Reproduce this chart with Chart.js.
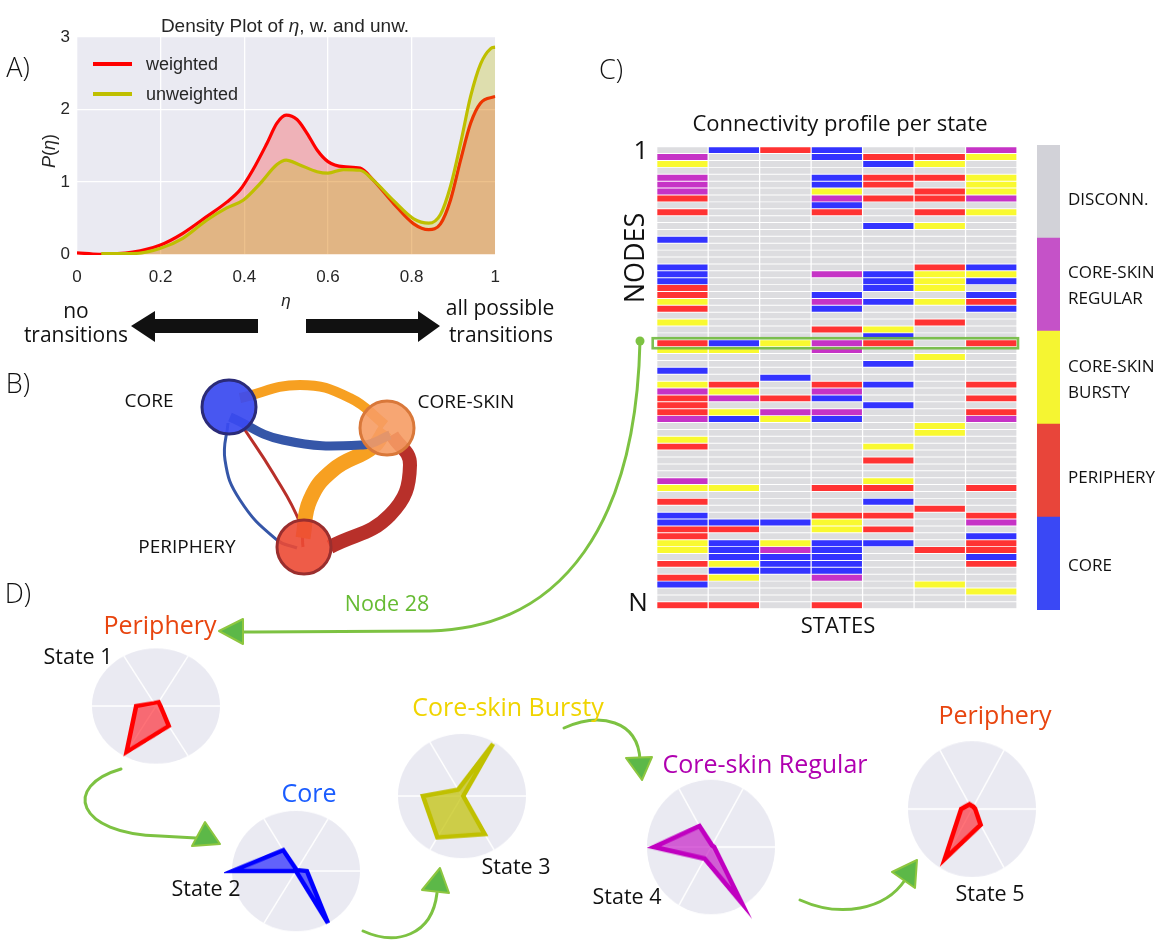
<!DOCTYPE html>
<html><head><meta charset="utf-8">
<script src="https://cdn.jsdelivr.net/npm/chart.js@4.4.0/dist/chart.umd.min.js"></script>
<style>
html,body{margin:0;padding:0;background:#fff;}
#root{position:relative;width:1164px;height:945px;overflow:hidden;font-family:"Open Sans",sans-serif;color:#111;}
.t{position:absolute;white-space:nowrap;line-height:1;transform:translate(-50%,-50%);}
.tl{position:absolute;white-space:nowrap;line-height:1;transform:translate(0,-50%);}
.box{position:absolute;}
.ar{font-family:"Liberation Sans",Arial,sans-serif;color:#262626;}
svg{position:absolute;left:0;top:0;}
</style></head><body><div id="root"></div>
<script>
// ---------- Panel A data (density of eta) ----------
const etaWeighted = [0,0.053,0.133,0.198,0.253,0.31,0.358,0.39,0.42,0.454,0.478,0.50,0.526,0.55,0.574,0.60,0.637,0.677,0.709,0.757,0.805,0.841,0.869,0.893,0.917,0.941,0.965,1.0];
const pWeighted   = [0.02,0.0,0.03,0.125,0.29,0.52,0.72,0.89,1.16,1.53,1.81,1.92,1.86,1.67,1.44,1.28,1.21,1.19,1.02,0.70,0.42,0.34,0.42,0.75,1.30,1.81,2.09,2.18];
const etaUnweighted = [0.058,0.133,0.198,0.253,0.31,0.358,0.398,0.438,0.478,0.50,0.53,0.574,0.60,0.637,0.677,0.709,0.757,0.805,0.841,0.869,0.893,0.917,0.941,0.965,0.989,1.0];
const pUnweighted   = [0.01,0.01,0.08,0.22,0.47,0.64,0.75,0.98,1.24,1.30,1.24,1.14,1.12,1.17,1.16,1.02,0.74,0.49,0.43,0.55,0.94,1.53,2.18,2.63,2.84,2.86];
const xTicksA = [0,0.2,0.4,0.6,0.8,1];
const yTicksA = [0,1,2,3];

// ---------- Panel B data (state transition network) ----------
const netNodes = ['CORE','CORE-SKIN','PERIPHERY'];
const netNodeX = [129,287,204];
const netNodeY = [47,68,187];
const netEdgeX = [[140,200,250,285],[130,183,263,290],[285,273,233,210,203],[292,310,290,230],[128,125,140,177,197],[143,173,200,203]];
const netEdgeY = [[38,25,38,65],[57,80,85,75],[70,87,110,140,178],[75,105,155,187],[63,100,140,180,188],[67,113,163,187]];
const netEdgeWeight = [10,9,15,14,3,3];
const netEdgeSource = ['CORE-SKIN','CORE','CORE-SKIN','PERIPHERY','CORE','PERIPHERY'];

// ---------- Panel C data (role of each node in each state) ----------
// 0 disconnected, 1 core, 2 periphery, 3 core-skin bursty, 4 core-skin regular
const state1 = [0,4,3,0,4,4,4,2,0,2, 0,0,0,1,0,0,0,1,1,1, 2,2,3,2,0,3,0,0,2,3, 0,0,1,0,3,4,2,2,2,4, 0,0,3,2,0,0,0,0,4,3, 0,2,0,1,1,2,2,3,3,0, 2,0,2,1,0,0,2];
const state2 = [1,0,0,0,0,0,0,0,0,0, 0,0,0,0,0,0,0,0,0,0, 0,0,0,0,0,0,0,0,1,3, 0,0,0,0,2,3,4,0,3,1, 0,0,0,0,0,0,0,0,0,3, 0,0,0,0,1,2,0,1,1,1, 3,1,3,0,0,0,2];
const state3 = [2,0,0,0,0,0,0,0,0,0, 0,0,0,0,0,0,0,0,0,0, 0,0,0,0,0,0,0,0,3,0, 0,0,0,1,0,0,2,0,4,3, 0,0,0,0,0,0,0,0,0,0, 0,0,0,0,1,0,0,3,4,1, 1,1,0,0,0,0,0];
const state4 = [1,1,0,0,1,1,3,4,1,2, 0,0,0,0,0,0,0,0,4,0, 0,1,4,1,0,0,2,0,4,4, 0,0,0,0,2,4,1,0,4,1, 0,0,0,0,0,0,0,0,0,2, 0,0,0,2,3,3,0,1,1,1, 1,1,4,0,0,0,2];
const state5 = [0,2,1,0,2,2,0,2,0,0, 0,1,0,0,0,0,0,0,1,1, 1,0,1,0,0,0,3,1,2,0, 0,1,0,0,1,0,0,1,0,0, 0,0,0,3,0,2,0,0,3,2, 0,1,0,2,0,2,0,1,0,0, 0,0,0,0,0,0,0];
const state6 = [0,2,3,0,2,0,2,2,0,2, 0,3,0,0,0,0,0,2,3,3, 3,0,3,0,0,2,0,0,0,0, 3,0,0,0,0,0,0,0,0,0, 3,3,0,0,0,0,0,0,0,0, 0,0,2,0,0,0,0,0,2,0, 0,0,0,3,0,0,0];
const state7 = [4,3,0,0,3,3,3,4,0,3, 0,0,0,0,0,0,0,1,3,1, 0,1,2,1,0,0,0,0,2,0, 0,0,0,0,2,0,2,0,2,4, 0,0,0,0,0,0,0,0,0,2, 0,0,0,2,4,0,1,2,2,1, 2,0,0,0,3,0,0];
const roleNames = ['DISCONN.','CORE','PERIPHERY','CORE-SKIN BURSTY','CORE-SKIN REGULAR'];
const highlightNode = 28;

// ---------- Panel D data (radar profile of node 28 per state) ----------
const radarAxes = ['','','','','',''];
const radarState1 = [0.07,0.40,0.92,0.31,0.06,0.08];
const radarState2 = [0.17,1.00,0.00,0.99,0.40,0.02];
const radarState3 = [0.02,0.71,0.77,0.61,0.12,0.97];
const radarState4 = [0.05,0.96,0.20,0.89,0.36,0.03];
const radarState5 = [0.05,0.27,0.85,0.17,0.08,0.04];

// ---------------------------------------------------------------
Chart.defaults.animation = false;
Chart.defaults.plugins.legend.display = false;
Chart.defaults.plugins.tooltip.enabled = false;
const root = document.getElementById('root');
function canvasAt(x, y, w, h, extra) {
  const d = document.createElement('div');
  d.className = 'box';
  d.style.cssText = `left:${x}px;top:${y}px;width:${w}px;height:${h}px;` + (extra || '');
  const c = document.createElement('canvas');
  c.width = w; c.height = h;
  c.style.width = w + 'px'; c.style.height = h + 'px';
  d.appendChild(c); root.appendChild(d);
  return c;
}
function text(html, x, y, size, opts) {
  opts = opts || {};
  const d = document.createElement('div');
  d.className = (opts.left ? 'tl' : 't') + (opts.cls ? ' ' + opts.cls : '');
  d.innerHTML = html;
  d.style.left = x + 'px'; d.style.top = y + 'px'; d.style.fontSize = size + 'px';
  if (opts.color) d.style.color = opts.color;
  if (opts.rot) d.style.transform = `translate(-50%,-50%) rotate(${opts.rot}deg)`;
  if (opts.weight) d.style.fontWeight = opts.weight;
  root.appendChild(d);
}

// ---------- Panel A ----------
const plotBg = { id: 'plotBg', beforeDraw(chart) {
  const a = chart.chartArea, ctx = chart.ctx;
  ctx.save(); ctx.fillStyle = '#eaeaf2';
  ctx.fillRect(a.left, a.top, a.right - a.left, a.bottom - a.top); ctx.restore(); } };
const xy = (xs, ys) => xs.map((x, i) => ({x: x, y: ys[i]}));
new Chart(canvasAt(0, 0, 502, 300), {
  type: 'line',
  data: { datasets: [
    { label: 'unweighted', data: xy(etaUnweighted, pUnweighted), borderColor: '#bfbf00', backgroundColor: 'rgba(191,191,0,0.28)', fill: 'origin', borderWidth: 3.2, pointRadius: 0, cubicInterpolationMode: 'monotone' },
    { label: 'weighted', data: xy(etaWeighted, pWeighted), borderColor: '#ff0000', backgroundColor: 'rgba(255,0,0,0.24)', fill: 'origin', borderWidth: 3.2, pointRadius: 0, cubicInterpolationMode: 'monotone' }
  ]},
  options: {
    responsive: false,
    layout: { padding: { top: 37, right: 0, left: 0, bottom: 0 } },
    scales: {
      x: { type: 'linear', min: 0, max: 1,
        afterBuildTicks: s => { s.ticks = xTicksA.map(v => ({value: v})); },
        afterFit: s => { s.height = 45; },
        ticks: { callback: v => String(v), color: '#262626', font: { family: 'Liberation Sans', size: 17 }, padding: 2, maxRotation: 0 },
        grid: { color: '#ffffff', lineWidth: 1.3, drawTicks: true, tickLength: 10, tickColor: 'rgba(0,0,0,0)' }, border: { display: false } },
      y: { type: 'linear', min: -0.01, max: 3.0,
        afterBuildTicks: s => { s.ticks = yTicksA.map(v => ({value: v})); },
        afterFit: s => { s.width = 77; },
        ticks: { callback: v => String(v), color: '#262626', font: { family: 'Liberation Sans', size: 17 }, padding: 7 },
        grid: { color: '#ffffff', lineWidth: 1.3, drawTicks: false }, border: { display: false } }
    }
  },
  plugins: [plotBg]
});

// ---------- Panel B ----------
const nodeFill = ['rgba(58,74,240,0.93)','rgba(246,156,100,0.9)','rgba(236,74,52,0.9)'];
const nodeBorder = ['#2b2b78','#d9783a','#9a2e2e'];
const edgeColor = {'CORE':'#3556a8','CORE-SKIN':'#f7a021','PERIPHERY':'#b8302a'};
const netDatasets = netEdgeX.map((xs, i) => ({
  type: 'scatter', data: xy(xs, netEdgeY[i]), showLine: true, tension: 0.45,
  borderColor: edgeColor[netEdgeSource[i]], borderWidth: netEdgeWeight[i], pointRadius: 0, order: 2
}));
netDatasets.push({ type: 'scatter', data: xy(netNodeX, netNodeY), pointRadius: 27, pointBorderWidth: 3,
  pointBackgroundColor: nodeFill, pointBorderColor: nodeBorder, order: 0 });
new Chart(canvasAt(100, 360, 420, 230), {
  type: 'scatter',
  data: { datasets: netDatasets },
  options: { responsive: false, layout: { padding: 0, autoPadding: false },
    scales: { x: { display: false, min: 0, max: 420 }, y: { display: false, min: 0, max: 230, reverse: true } } }
});

// ---------- Panel C ----------
const states = [state1, state2, state3, state4, state5, state6, state7];
const cellColor = ['#dddde0','#3333ff','#ff3333','#f9f930','#c633c6'];
const nodeIds = state1.map((_, i) => i);
const highlightPlugin = { id: 'hl', afterDraw(chart) {
  const y = chart.scales.y.getPixelForValue(highlightNode), a = chart.chartArea, ctx = chart.ctx;
  ctx.save(); ctx.strokeStyle = 'rgba(112,186,62,0.9)'; ctx.lineWidth = 2.6;
  ctx.strokeRect(a.left - 4, y - 5, a.right - a.left + 5, 10); ctx.restore(); } };
new Chart(canvasAt(651, 141, 371, 473), {
  type: 'bar',
  data: { labels: nodeIds, datasets: states.map((col, s) => ({
    data: col.map(() => [s + 0.012, s + 0.988]),
    backgroundColor: col.map(c => cellColor[c]),
    borderWidth: 0, grouped: false, barPercentage: 0.86, categoryPercentage: 1 })) },
  options: { responsive: false, indexAxis: 'y', layout: { padding: { left: 5.7, right: 5, top: 5.7, bottom: 5.3 } },
    scales: { x: { display: false, min: 0, max: 7 }, y: { display: false } } },
  plugins: [highlightPlugin]
});
// colorbar
const barOrder = [1, 2, 3, 4, 0];
const barColor = ['#d2d2d8','#3a48f5','#e8453a','#f5f532','#c552c8'];
new Chart(canvasAt(1037, 145, 23, 465), {
  type: 'bar',
  data: { labels: ['roles'], datasets: barOrder.map(r => ({ label: roleNames[r], data: [1], backgroundColor: barColor[r], borderWidth: 0, barPercentage: 1, categoryPercentage: 1 })) },
  options: { responsive: false, layout: { padding: 0 },
    scales: { x: { display: false, stacked: true }, y: { display: false, stacked: true, min: 0, max: 5 } } }
});

// ---------- Panel D ----------
function radar(vals, cx, cy, k, line, fillc) {
  const R = 64, P = 8, S = 2 * (R + P);
  const c = canvasAt(cx - S / 2, cy - S / 2, S, S, `transform:scaleY(${k});transform-origin:50% 50%;`);
  new Chart(c, { type: 'radar',
    data: { labels: radarAxes, datasets: [{ data: vals, borderColor: line, backgroundColor: fillc, borderWidth: 4.5, pointRadius: 0, borderJoinStyle: 'miter', fill: true }] },
    options: { responsive: false, layout: { padding: P },
      scales: { r: { min: 0, max: 1, startAngle: 90, backgroundColor: '#eaeaf2',
        grid: { display: false, circular: true }, angleLines: { color: '#ffffff', lineWidth: 1.5 },
        ticks: { display: false }, pointLabels: { display: false } } } } });
}
radar(radarState1, 156, 706, 0.9, '#ff0000', 'rgba(255,20,30,0.6)');
radar(radarState2, 296, 871, 0.94, '#0000ff', 'rgba(0,0,255,0.58)');
radar(radarState3, 462, 796, 0.97, '#c0c000', 'rgba(192,192,0,0.7)');
radar(radarState4, 711, 847, 1.05, '#c000c0', 'rgba(192,0,192,0.6)');
radar(radarState5, 972, 809, 1.06, '#ff0000', 'rgba(255,20,30,0.6)');

// ---------- arrows / connectors (SVG) ----------
const svgNS = 'http://www.w3.org/2000/svg';
const svg = document.createElementNS(svgNS, 'svg');
svg.setAttribute('width', 1164); svg.setAttribute('height', 945);
svg.innerHTML = `
 <polygon points="258,319 155,319 155,311 131,326 155,342 155,333 258,333" fill="#111"/>
 <polygon points="306,319 418,319 418,311 440,326 418,342 418,333 306,333" fill="#111"/>
 <g fill="none" stroke="#7dc242" stroke-width="3" stroke-linecap="round">
  <path d="M640,341 C 636,520 565,628 430,631 L 244,632"/>
  <path d="M121,769 C 62,786 76,834 160,836 L 196,838"/>
  <path d="M363,931 C 396,946 432,936 437,893"/>
  <path d="M564,728 C 600,712 638,720 640,760"/>
  <path d="M800,900 C 840,918 885,910 905,880"/>
 </g>
 <circle cx="640" cy="341" r="4.5" fill="#7dc242"/>
 <g fill="#5cb848" stroke="#8dc63f" stroke-width="2" stroke-linejoin="round">
  <polygon points="219,631 243,619 243,644"/>
  <polygon points="205,822 192,846 220,844"/>
  <polygon points="440,868 422,890 449,893"/>
  <polygon points="626,758 652,757 642,780"/>
  <polygon points="917,860 892,872 915,888"/>
 </g>`;
root.appendChild(svg);

// ---------- texts ----------
const it = s => `<i>${s}</i>`;
text('A)', 18, 66, 27, {weight: 300});
text(`Density Plot of ${it('η')}, w. and unw.`, 285, 25, 19, {cls: 'ar'});
text(`${it('P')}(${it('η')})`, 49, 151, 18, {cls: 'ar', rot: -90});
text(it('η'), 286, 300, 17, {cls: 'ar'});
// legend
['#ff0000', '#bfbf00'].forEach((col, i) => {
  const d = document.createElement('div');
  d.style.cssText = `position:absolute;left:93px;top:${62 + 30 * i}px;width:39px;height:3.5px;background:${col};`;
  root.appendChild(d);
});
text('weighted', 146, 64, 18, {left: true, cls: 'ar'});
text('unweighted', 146, 94, 18, {left: true, cls: 'ar'});
text('no', 76, 310, 21);
text('transitions', 76, 334, 21);
text('all possible', 500, 307, 21);
text('transitions', 501, 334, 21);

text('B)', 18, 382, 27, {weight: 300});
text('CORE', 149, 400, 19);
text('CORE-SKIN', 466, 401, 19);
text('PERIPHERY', 187, 546, 19);

text('C)', 611, 68, 27, {weight: 300});
text('Connectivity profile per state', 840, 122, 22);
text('1', 641, 149, 26);
text('NODES', 633, 258, 27, {rot: -90});
text('N', 638, 601, 26);
text('STATES', 838, 624, 22);
text('DISCONN.', 1068, 198, 17, {left: true});
text('CORE-SKIN', 1068, 271, 17, {left: true});
text('REGULAR', 1068, 297, 17, {left: true});
text('CORE-SKIN', 1068, 365, 17, {left: true});
text('BURSTY', 1068, 391, 17, {left: true});
text('PERIPHERY', 1068, 476, 17, {left: true});
text('CORE', 1068, 564, 17, {left: true});

text('D)', 18, 592, 27, {weight: 300});
text('Node 28', 387, 603, 21.5, {color: '#66bb33'});
text('Periphery', 160, 624, 25, {color: '#e8450f'});
text('State 1', 78, 656, 21.5);
text('Core', 309, 792, 25, {color: '#1a5cff'});
text('State 2', 206, 888, 21.5);
text('Core-skin Bursty', 508, 706, 25, {color: '#f0d400'});
text('State 3', 516, 866, 21.5);
text('Core-skin Regular', 765, 763, 25, {color: '#b000b0'});
text('State 4', 627, 896, 21.5);
text('Periphery', 995, 714, 25, {color: '#e8450f'});
text('State 5', 990, 893, 21.5);
</script></body></html>
